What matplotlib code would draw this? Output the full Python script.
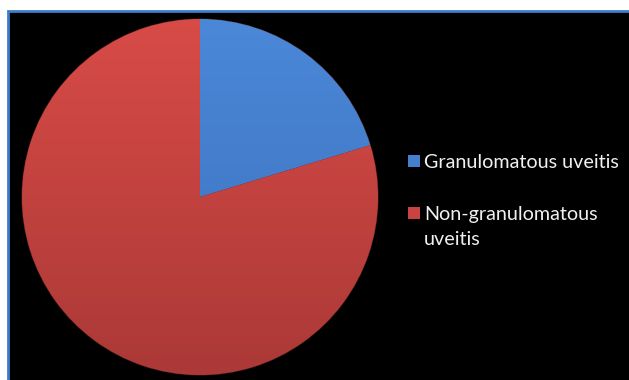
import numpy as np
import matplotlib
matplotlib.use("Agg")
import matplotlib.pyplot as plt
from matplotlib.patches import Rectangle
from matplotlib.colors import LinearSegmentedColormap

categories = ["Granulomatous uveitis", "Non-granulomatous\nuveitis"]
values = [20.3, 79.7]
top_colors = ["#4b88d8", "#d84b47"]
bottom_colors = ["#3a6fbb", "#ab3937"]
flat_colors = ["#4680cc", "#c84442"]

W, H = 629, 380
fig = plt.figure(figsize=(W / 100, H / 100), dpi=100, facecolor="white")

def fx(px):
    return px / W

def fy(py):  # py measured from top
    return 1 - py / H

# black panel with blue border
fig.patches.append(Rectangle((fx(8), -0.1), 1.1, fy(11) + 0.1,
                             transform=fig.transFigure, facecolor="black",
                             edgecolor="#3d7cc9", linewidth=2.0, zorder=-10))

cx, cy, r = 200, 197, 178
ax = fig.add_axes([fx(cx - r), fy(cy + r), 2 * r / W, 2 * r / H])
ax.axis("off")
ax.set_zorder(1)

wedges, _ = ax.pie(values, colors=flat_colors, startangle=90, counterclock=False,
                   radius=1.0, wedgeprops=dict(linewidth=0.8, edgecolor="#4a1a1a"))

for w, tc, bc in zip(wedges, top_colors, bottom_colors):
    cmap = LinearSegmentedColormap.from_list("g", [bc, tc])
    grad = np.linspace(0, 1, 256).reshape(-1, 1)
    im = ax.imshow(grad, extent=[-1, 1, -1, 1], origin="lower", cmap=cmap,
                   aspect="auto", zorder=w.get_zorder() + 0.1)
    im.set_clip_path(w)
ax.set_xlim(-1, 1)
ax.set_ylim(-1, 1)
ax.set_aspect("equal")

# legend
first_baselines = [168, 220]
line_step = 25
sq = 12
for label, col, base in zip(categories, flat_colors, first_baselines):
    fig.patches.append(Rectangle((fx(408), fy(base - 1)), sq / W, sq / H,
                                 transform=fig.transFigure, facecolor=col,
                                 edgecolor="none", zorder=2))
    for i, line in enumerate(label.split("\n")):
        fig.text(fx(424), fy(base + i * line_step), line, color="#f0f0f0",
                 family="Lato", fontsize=14.2, ha="left", va="baseline")

fig.savefig("out.png", dpi=100, facecolor="white")
